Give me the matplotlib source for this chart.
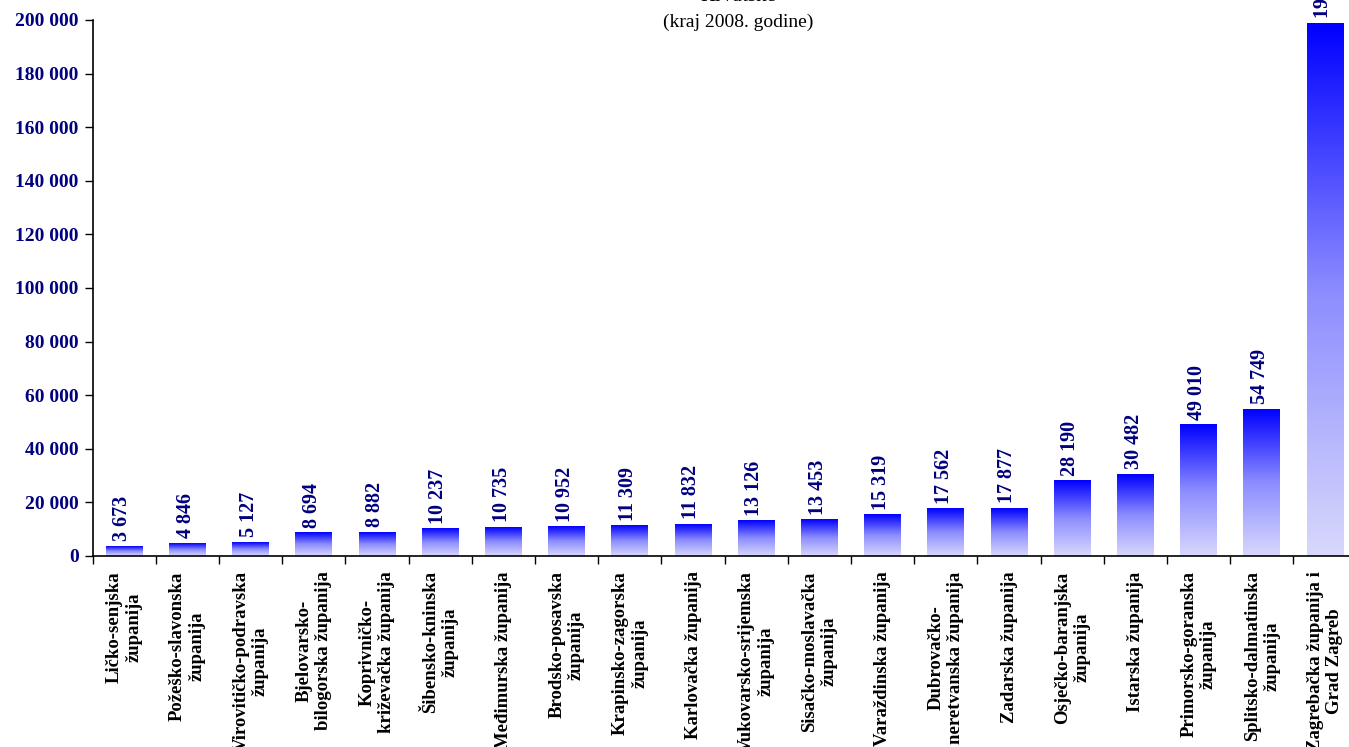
import numpy as np
import matplotlib
matplotlib.use('Agg')
import matplotlib.pyplot as plt
from matplotlib.colors import LinearSegmentedColormap
from matplotlib.ticker import FixedLocator, FuncFormatter

# Data: counties and values (end of 2008)
counties = ['Ličko-senjska\nžupanija', 'Požeško-slavonska\nžupanija',
            'Virovitičko-podravska\nžupanija', 'Bjelovarsko-\nbilogorska županija',
            'Koprivničko-\nkriževačka županija', 'Šibensko-kninska\nžupanija',
            'Međimurska županija', 'Brodsko-posavska\nžupanija',
            'Krapinsko-zagorska\nžupanija', 'Karlovačka županija',
            'Vukovarsko-srijemska\nžupanija', 'Sisačko-moslavačka\nžupanija',
            'Varaždinska županija', 'Dubrovačko-\nneretvanska županija',
            'Zadarska županija', 'Osječko-baranjska\nžupanija',
            'Istarska županija', 'Primorsko-goranska\nžupanija',
            'Splitsko-dalmatinska\nžupanija', 'Zagrebačka županija i\nGrad Zagreb']
values = [3673, 4846, 5127, 8694, 8882, 10237, 10735, 10952, 11309, 11832,
          13126, 13453, 15319, 17562, 17877, 28190, 30482, 49010, 54749, 198880]
yticks = [0, 20000, 40000, 60000, 80000, 100000, 120000, 140000, 160000, 180000, 200000]

navy = '#000080'
plt.rcParams['font.family'] = 'Liberation Serif'

fig = plt.figure(figsize=(13.49, 7.47), dpi=100)
ax = fig.add_axes([92.7 / 1349, 1 - 556 / 747, 1264 / 1349, 536 / 747])

cmap = LinearSegmentedColormap.from_list('grad', ['#0000ff', '#8c8cff', '#d8d8fc'])
grad = np.linspace(0, 1, 256).reshape(-1, 1)
width = 0.585
x = np.arange(len(values))
for xi, v in zip(x, values):
    ax.imshow(grad, cmap=cmap, aspect='auto', origin='upper',
              extent=[xi - width / 2, xi + width / 2, 0, v], zorder=2)
    ax.text(xi - 0.03, v + 1800, format(v, ',').replace(',', ' '), rotation=90,
            ha='center', va='bottom', fontsize=14.5, fontweight='bold', color=navy,
            clip_on=False)

ax.set_xlim(-0.5, len(values) - 0.5)
ax.set_ylim(0, 200000)

ax.yaxis.set_major_locator(FixedLocator(yticks))
ax.yaxis.set_major_formatter(FuncFormatter(lambda v, p: format(int(v), ',').replace(',', ' ')))
for lab in ax.get_yticklabels():
    lab.set_fontweight('bold')
    lab.set_color(navy)
    lab.set_fontsize(14)
ax.tick_params(axis='y', direction='out', length=6, width=1, pad=4)

# x ticks between categories, labels at category centres
ax.set_xticks(np.arange(len(values) + 1) - 0.5)
ax.set_xticklabels([])
ax.set_xticks(x, minor=True)
ax.set_xticklabels(counties, minor=True, rotation=90, fontsize=13.5, fontweight='bold',
                   ha='center', va='top', multialignment='center')
ax.tick_params(axis='x', which='minor', length=0, pad=11)
ax.tick_params(axis='x', which='major', direction='out', length=6, width=1)

ax.spines['top'].set_visible(False)
ax.spines['right'].set_visible(False)
ax.spines['left'].set_linewidth(1.2)
ax.spines['bottom'].set_linewidth(1.2)

fig.text(738 / 1349, 1 - 6 / 747, 'Hrvatske', ha='center', va='bottom', fontsize=15)
fig.text(738 / 1349, 1 - 22 / 747, '(kraj 2008. godine)', ha='center', va='center', fontsize=14)

fig.savefig('out.png', dpi=100)
